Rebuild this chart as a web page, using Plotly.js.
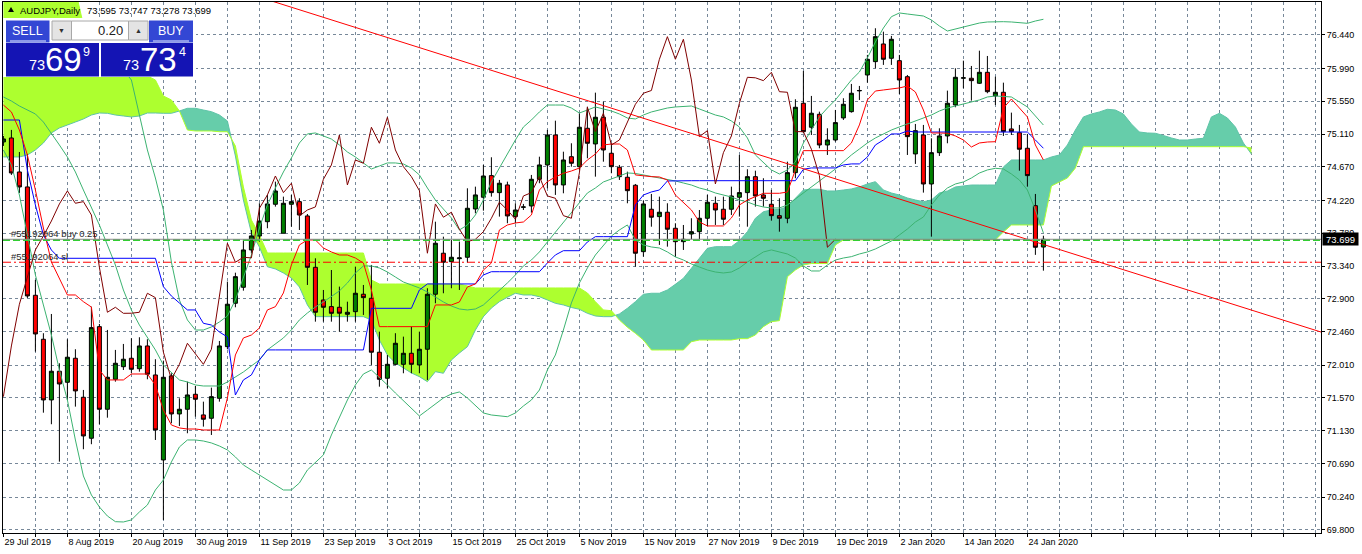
<!DOCTYPE html>
<html><head><meta charset="utf-8">
<script src="https://cdn.plot.ly/plotly-3.0.1.min.js"></script>
<style>html,body{margin:0;padding:0;background:#fff;}#chart{width:1362px;height:554px;}</style>
</head><body><div id="chart"></div>
<script>
// ---------- DATA ----------
const symbol = "AUDJPY,Daily";
const dateLabels = ["29 Jul 2019","8 Aug 2019","20 Aug 2019","30 Aug 2019","11 Sep 2019","23 Sep 2019","3 Oct 2019","15 Oct 2019","25 Oct 2019","5 Nov 2019","15 Nov 2019","27 Nov 2019","9 Dec 2019","19 Dec 2019","2 Jan 2020","14 Jan 2020","24 Jan 2020"];
const priceTicks = ["76.440","75.990","75.550","75.110","74.670","74.220","73.780","73.340","72.900","72.460","72.010","71.570","71.130","70.690","70.240","69.800"];

const open = [75.005,75.058,74.602,74.401,72.948,72.358,71.544,71.929,71.781,72.103,
71.580,71.030,72.527,71.419,71.821,71.990,72.103,71.963,72.268,71.879,
70.739,71.866,71.356,71.419,71.620,71.343,71.298,71.566,72.259,72.841,
73.055,73.556,73.743,73.935,74.169,73.780,74.169,74.204,74.012,73.323,
72.885,72.796,72.787,72.693,72.728,72.962,72.908,72.184,71.835,72.022,
72.022,72.170,72.013,72.224,72.962,73.512,73.399,73.439,73.458,74.106,
74.263,74.553,74.325,74.428,74.003,74.128,74.146,74.504,74.696,75.098,
74.428,74.807,74.673,75.188,74.978,75.336,74.853,74.665,74.531,74.424,
73.533,74.102,74.003,74.062,73.847,73.667,73.770,73.801,73.981,74.182,
74.102,74.102,74.263,74.325,74.539,74.294,74.169,74.016,73.981,74.593,
75.524,75.202,75.376,74.964,75.031,75.327,75.411,75.690,75.903,76.082,
76.319,76.127,76.095,75.880,74.844,75.098,74.441,74.861,75.085,75.501,
75.860,75.859,75.792,75.939,75.622,75.671,75.179,75.129,74.920,74.150,
73.595];
const high = [75.085,75.166,74.870,74.844,73.154,72.439,72.697,72.036,72.358,72.224,
71.678,72.795,72.563,72.483,72.215,72.295,72.371,72.385,72.358,72.090,
72.071,71.902,71.566,71.789,71.732,71.521,71.709,72.335,73.131,73.251,
73.690,73.824,74.182,74.293,74.472,74.271,74.293,74.249,74.038,73.444,
73.019,73.287,73.064,72.862,73.332,73.086,73.355,72.460,72.147,72.439,
72.393,72.527,72.460,73.042,73.935,73.734,73.690,73.667,74.383,74.405,
74.696,74.799,74.495,74.472,74.182,74.173,74.562,74.807,75.166,75.290,
74.874,74.987,75.390,75.478,75.666,75.545,74.987,74.696,74.606,74.441,
74.217,74.307,74.271,74.182,73.914,73.891,73.981,74.092,74.294,74.271,
74.271,74.405,74.830,74.638,74.619,74.518,74.361,74.249,74.740,75.577,
75.957,75.622,75.411,75.188,75.434,75.591,75.783,75.756,76.172,76.530,
76.484,76.427,76.172,75.903,75.246,75.233,75.054,75.188,75.693,75.993,
76.095,76.024,76.229,76.158,75.880,75.800,75.398,75.233,75.112,74.307,
73.747];
const low = [74.951,74.562,74.320,72.912,72.192,71.373,71.218,70.716,71.544,71.454,
70.883,70.950,71.218,71.306,71.789,71.946,71.902,71.923,71.821,71.007,
69.934,71.231,71.195,71.097,71.320,71.186,71.074,71.521,72.224,72.787,
73.010,73.511,73.667,73.847,74.137,73.780,73.868,73.824,73.086,72.594,
72.594,72.594,72.460,72.594,72.594,72.684,72.013,71.722,71.701,72.013,
71.902,71.902,71.902,71.812,72.841,72.975,73.042,73.019,73.386,74.048,
74.083,74.271,74.003,73.914,73.914,74.092,74.056,74.451,74.383,74.294,
74.316,74.673,74.629,74.786,74.539,74.740,74.585,74.495,74.182,73.332,
73.466,73.868,73.623,73.600,73.466,73.556,73.699,73.681,73.877,73.891,
73.891,74.025,74.003,73.868,74.137,74.137,73.949,73.801,73.914,74.518,
75.121,75.098,74.920,74.830,75.009,75.300,75.398,75.568,75.800,75.993,
76.038,76.038,75.648,74.830,74.710,74.325,73.734,74.817,74.987,75.470,
75.725,75.559,75.783,75.658,75.501,75.085,75.098,74.619,74.405,73.490,
73.278];
const close = [75.045,74.589,74.401,72.939,72.429,71.544,71.929,71.758,72.117,71.665,
71.061,72.514,71.419,71.848,72.036,72.090,71.955,72.268,71.889,71.141,
71.848,71.356,71.419,71.611,71.553,71.285,71.588,72.268,72.828,73.198,
73.556,73.744,73.944,74.173,74.347,74.182,74.204,74.025,73.323,72.720,
72.787,72.706,72.707,72.720,72.975,72.916,72.184,71.821,72.022,72.304,
72.170,72.022,72.224,72.962,73.646,73.391,73.458,73.449,74.115,74.294,
74.548,74.325,74.451,74.012,74.092,74.133,74.504,74.696,75.098,74.428,
74.763,74.719,75.202,74.987,75.336,74.897,74.673,74.539,74.351,73.512,
74.173,73.995,74.062,73.834,73.667,73.699,73.801,73.981,74.196,74.092,
73.968,74.280,74.325,74.539,74.280,74.249,74.016,73.981,74.593,75.470,
75.143,75.390,74.964,75.031,75.264,75.510,75.658,75.695,76.114,76.417,
76.114,76.382,75.836,75.076,75.156,74.441,74.861,75.085,75.524,75.872,
75.865,75.827,75.939,75.679,75.671,75.143,75.143,74.907,74.553,73.592,
73.699];

const tenkan = [75.500,75.407,75.165,74.830,74.360,73.850,73.395,73.180,72.952,72.952,
72.862,72.790,71.946,71.812,71.812,71.812,71.892,71.892,71.892,71.744,
71.409,71.208,71.168,71.154,71.154,71.141,71.141,71.141,71.570,72.147,
72.375,72.415,72.509,72.751,72.795,72.979,73.355,73.623,73.690,73.690,
73.582,73.529,73.488,73.488,73.448,73.381,73.019,72.527,72.527,72.527,
72.527,72.527,72.527,72.527,72.818,72.818,72.818,72.858,73.059,73.100,
73.287,73.381,73.824,73.891,73.918,73.931,74.025,74.360,74.472,74.535,
74.584,74.615,74.655,74.763,74.843,74.964,74.977,74.977,74.897,74.562,
74.548,74.539,74.535,74.494,74.293,74.186,74.092,73.931,73.878,73.878,
73.878,73.985,74.159,74.226,74.266,74.316,74.316,74.316,74.333,74.629,
74.888,74.888,74.888,74.888,74.888,74.888,74.991,75.233,75.568,75.688,
75.702,75.715,75.729,75.755,75.675,75.433,75.125,75.125,75.121,75.085,
75.031,74.937,74.991,75.004,75.008,75.460,75.581,75.460,75.340,74.964,
74.763];
const kijun = [75.299,75.299,75.299,74.629,74.159,73.757,73.555,73.444,73.444,73.444,
73.444,73.444,73.444,73.444,73.444,73.444,73.444,73.444,73.444,73.444,
73.063,72.938,72.844,72.751,72.751,72.572,72.549,72.455,72.389,71.610,
71.812,71.879,72.080,72.215,72.215,72.215,72.215,72.215,72.215,72.215,
72.215,72.215,72.215,72.215,72.215,72.215,72.773,72.773,72.773,72.773,
72.773,72.773,73.019,73.100,73.100,73.100,73.100,73.100,73.100,73.100,
73.220,73.264,73.264,73.264,73.264,73.264,73.264,73.264,73.381,73.489,
73.546,73.546,73.546,73.663,73.734,73.734,73.734,73.734,73.734,74.159,
74.293,74.334,74.360,74.481,74.485,74.485,74.485,74.485,74.485,74.485,
74.485,74.485,74.485,74.485,74.485,74.485,74.485,74.485,74.485,74.485,
74.638,74.656,74.656,74.656,74.656,74.696,74.710,74.710,74.803,74.964,
75.031,75.112,75.112,75.152,75.138,75.138,75.138,75.138,75.138,75.138,
75.138,75.138,75.138,75.138,75.138,75.138,75.138,75.138,75.138,75.031,
74.920];
const spanA = [77.043,77.043,77.043,77.043,77.043,77.043,77.043,77.043,77.043,77.043,
76.574,76.372,76.238,76.104,76.037,75.970,75.943,75.916,75.890,75.836,
75.621,75.568,75.420,75.165,75.152,75.152,75.152,75.142,75.142,74.951,
74.401,73.958,73.757,73.515,73.515,73.515,73.515,73.515,73.515,73.515,
73.515,73.515,73.515,73.515,73.515,73.515,73.153,73.099,73.099,73.099,
73.099,73.099,73.099,73.099,73.099,73.099,73.099,73.099,73.073,73.046,
73.046,73.046,73.046,73.046,73.046,73.046,73.046,73.046,73.046,73.046,
73.046,73.046,73.046,72.979,72.862,72.751,72.741,72.616,72.519,72.438,
72.348,72.214,72.214,72.214,72.214,72.214,72.325,72.348,72.348,72.348,
72.348,72.348,72.366,72.366,72.415,72.527,72.594,72.607,73.197,73.287,
73.354,73.374,73.374,73.374,73.623,73.690,73.690,73.690,73.690,73.690,
73.690,73.690,73.690,73.690,73.690,73.690,73.690,73.690,73.690,73.690,
73.690,73.690,73.690,73.690,73.690,73.797,73.891,73.891,73.891,73.891,
73.891,74.414,74.468,74.521,74.655,74.941,74.941,74.941,74.941,74.941,
74.941,74.941,74.941,74.941,74.941,74.941,74.941,74.941,74.941,74.941,
74.941,74.941,74.941,74.941,74.941,74.941,74.924];
const spanB = [74.803,74.803,74.803,74.830,74.897,74.991,75.125,75.192,75.232,75.272,
75.313,75.366,75.393,75.389,75.366,75.353,75.340,75.353,75.393,75.393,
75.389,75.389,75.420,75.456,75.456,75.433,75.411,75.366,75.286,74.816,
74.226,73.784,73.596,73.331,73.301,73.247,73.180,73.059,72.818,72.661,
72.661,72.661,72.661,72.661,72.661,72.661,72.617,72.348,72.147,72.040,
71.973,71.906,71.856,71.789,71.923,71.902,72.080,72.174,72.258,72.482,
72.661,72.777,72.862,72.921,72.975,72.952,72.952,72.929,72.885,72.840,
72.818,72.784,72.760,72.706,72.670,72.661,72.661,72.697,72.773,72.862,
72.961,72.975,72.975,73.019,73.095,73.176,73.310,73.444,73.578,73.600,
73.600,73.600,73.680,73.801,73.981,74.069,74.092,74.101,74.136,74.249,
74.360,74.370,74.370,74.347,74.347,74.360,74.374,74.401,74.441,74.472,
74.360,74.320,74.293,74.253,74.226,74.203,74.226,74.320,74.347,74.401,
74.414,74.427,74.427,74.427,74.427,74.669,74.763,74.763,74.763,74.763,
74.763,74.803,74.830,74.964,75.165,75.340,75.380,75.407,75.443,75.433,
75.380,75.246,75.138,75.125,75.121,75.091,75.058,75.031,75.031,75.044,
75.054,75.340,75.389,75.326,75.205,74.991,74.843];
const bbUpper = [76.265,76.292,76.319,76.346,76.372,76.372,76.372,76.372,76.359,76.346,
76.319,76.292,76.238,76.158,76.050,75.970,75.836,75.366,74.897,74.521,
74.092,73.394,72.885,72.617,72.482,72.482,72.523,72.590,72.670,72.885,
73.180,73.488,73.851,74.159,74.387,74.602,74.790,74.991,75.112,75.125,
75.085,75.044,74.964,74.870,74.803,74.723,74.642,74.682,74.723,74.723,
74.709,74.655,74.562,74.387,74.226,74.105,73.985,73.824,73.891,74.025,
74.226,74.468,74.655,74.857,75.031,75.205,75.299,75.407,75.500,75.500,
75.500,75.460,75.393,75.433,75.474,75.447,75.420,75.380,75.326,75.313,
75.366,75.407,75.433,75.460,75.474,75.480,75.487,75.447,75.407,75.366,
75.340,75.286,75.205,75.058,74.830,74.723,74.629,74.575,74.629,74.736,
74.991,75.165,75.340,75.460,75.568,75.702,75.836,75.943,76.131,76.346,
76.533,76.685,76.735,76.721,76.708,76.694,76.641,76.560,76.493,76.520,
76.551,76.574,76.600,76.614,76.618,76.618,76.614,76.600,76.596,76.627,
76.650];
const bbMiddle = [75.608,75.554,75.487,75.433,75.380,75.272,75.125,74.964,74.803,74.602,
74.360,74.119,73.891,73.623,73.354,73.019,72.751,72.549,72.389,72.215,
72.013,71.906,71.812,71.785,71.745,71.731,71.731,71.731,71.785,71.852,
71.919,72.000,72.080,72.215,72.295,72.375,72.483,72.617,72.710,72.791,
72.858,72.938,73.006,73.113,73.247,73.341,73.341,73.314,73.260,73.193,
73.126,73.086,73.046,72.992,72.925,72.858,72.804,72.764,72.751,72.764,
72.818,72.912,73.019,73.113,73.220,73.341,73.421,73.529,73.663,73.797,
73.931,74.065,74.199,74.320,74.387,74.468,74.508,74.548,74.589,74.582,
74.562,74.548,74.521,74.501,74.481,74.454,74.427,74.387,74.360,74.320,
74.293,74.266,74.226,74.199,74.159,74.132,74.119,74.119,74.159,74.240,
74.320,74.401,74.481,74.562,74.642,74.736,74.830,74.910,74.991,75.058,
75.112,75.165,75.206,75.246,75.286,75.326,75.366,75.420,75.460,75.487,
75.514,75.541,75.568,75.608,75.621,75.615,75.608,75.541,75.474,75.353,
75.232];
const bbLower = [74.897,74.696,74.293,73.757,73.220,72.818,72.415,71.946,71.543,71.007,
70.524,70.269,70.108,69.987,69.911,69.907,69.934,70.041,70.135,70.336,
70.470,70.712,70.913,71.007,71.007,70.993,70.967,70.926,70.873,70.779,
70.671,70.604,70.537,70.470,70.403,70.336,70.336,70.430,70.604,70.712,
70.806,71.074,71.302,71.543,71.745,71.892,71.946,71.852,71.745,71.637,
71.530,71.423,71.329,71.409,71.490,71.570,71.624,71.651,71.570,71.476,
71.369,71.342,71.329,71.319,71.369,71.463,71.543,71.677,71.946,72.147,
72.482,72.845,73.113,73.314,73.488,73.623,73.743,73.824,73.891,73.690,
73.623,73.596,73.582,73.529,73.462,73.421,73.368,73.327,73.287,73.260,
73.247,73.260,73.314,73.394,73.462,73.529,73.556,73.529,73.502,73.448,
73.341,73.274,73.274,73.354,73.421,73.448,73.466,73.502,73.529,73.569,
73.623,73.676,73.757,73.837,73.931,73.998,74.159,74.293,74.387,74.441,
74.468,74.521,74.588,74.629,74.651,74.642,74.575,74.494,74.360,74.092,
73.784];
const trendBars = [30, 166];
const trendPrices = [77.015, 72.411];
const orderTicket = "#55192064";
const orderLots = "0.25";
const orderOpen = 73.690;
const stopLoss = 73.391;
const bid = 73.699;
const ask = 73.734;
const lotSize = "0.20";

// ---------- LAYOUT HELPERS ----------
const W = 1362, H = 554, ML = 3, MR = 41, MT = 2, MB = 21;
const PW = W - ML - MR, PH = H - MT - MB;
const fx = px => (px - ML) / PW;
const fy = py => (MT + PH - py) / PH;
const FONT = "Liberation Sans, Arial, sans-serif";
const LIME = "#ADFF2F", TEAL = "#66CDAA";
const n = close.length;
const bars = close.map((_, i) => i);

// ---------- CLOUD (shapes between grid and traces) ----------
function cloudPolys(A, B) {
  const polys = []; let cur = null;
  for (let i = 0; i < A.length; i++) {
    const up = A[i] >= B[i];
    if (!cur) { cur = {up, xs: [i], a: [A[i]], b: [B[i]]}; continue; }
    if (up !== cur.up) {
      const d0 = A[i-1] - B[i-1], d1 = A[i] - B[i];
      const t = d0 / (d0 - d1);
      const xi = i - 1 + t, yi = A[i-1] + (A[i] - A[i-1]) * t;
      cur.xs.push(xi); cur.a.push(yi); cur.b.push(yi);
      polys.push(cur);
      cur = {up, xs: [xi, i], a: [yi, A[i]], b: [yi, B[i]]};
    } else { cur.xs.push(i); cur.a.push(A[i]); cur.b.push(B[i]); }
  }
  polys.push(cur);
  return polys;
}
const shapes = [];
cloudPolys(spanA, spanB).forEach(p => {
  const pts = p.xs.map((x, j) => [x, p.a[j]]).concat(p.xs.map((x, j) => [x, p.b[j]]).reverse());
  shapes.push({type: 'path', xref: 'x', yref: 'y', layer: 'between',
    path: 'M' + pts.map(q => q[0] + ',' + q[1]).join('L') + 'Z',
    fillcolor: p.up ? LIME : TEAL, line: {width: 0}});
});
function linePath(arr) { return 'M' + arr.map((v, i) => i + ',' + v).join('L'); }
shapes.push({type: 'path', xref: 'x', yref: 'y', layer: 'between', path: linePath(spanB), fillcolor: 'rgba(0,0,0,0)', line: {color: '#5FC4A8', width: 1}});
shapes.push({type: 'path', xref: 'x', yref: 'y', layer: 'between', path: linePath(spanA), fillcolor: 'rgba(0,0,0,0)', line: {color: LIME, width: 1}});

// order lines
shapes.push({type: 'line', xref: 'paper', yref: 'y', x0: 0, x1: 1, y0: orderOpen, y1: orderOpen, layer: 'above', line: {color: '#32CD32', width: 2, dash: '7px,3px'}});
shapes.push({type: 'line', xref: 'paper', yref: 'y', x0: 0, x1: 1, y0: bid, y1: bid, layer: 'above', line: {color: '#8C8C8C', width: 1}});
shapes.push({type: 'line', xref: 'paper', yref: 'y', x0: 0, x1: 1, y0: stopLoss, y1: stopLoss, layer: 'above', line: {color: '#FF0000', width: 1, dash: '8px,3px,2px,3px'}});

// ---------- one-click trading panel ----------
function rect(x0, y0, x1, y1, fill, lineColor) {
  shapes.push({type: 'rect', xref: 'paper', yref: 'paper', layer: 'above',
    x0: fx(x0), x1: fx(x1), y0: fy(y1), y1: fy(y0), fillcolor: fill,
    line: {color: lineColor || fill, width: lineColor ? 1 : 0}});
}
function hline(x0, x1, y, color) {
  shapes.push({type: 'line', xref: 'paper', yref: 'paper', layer: 'above',
    x0: fx(x0), x1: fx(x1), y0: fy(y), y1: fy(y), line: {color, width: 1}});
}
rect(3, 18, 196, 77, '#FFFFFF');
rect(6, 20.5, 49.5, 42.5, '#3347D4');
rect(149, 20.5, 193, 42.5, '#3347D4');
hline(10, 46, 41, '#E8ECFF');
hline(153, 189, 41, '#E8ECFF');
rect(52, 21, 71.5, 40, '#E4E4E4', '#A8A8A8');
rect(71.5, 21, 128.5, 40, '#FFFFFF', '#A8A8A8');
rect(128.5, 21, 148, 40, '#E4E4E4', '#A8A8A8');
rect(6, 43, 99, 76.5, '#1414B4');
rect(101, 43, 193, 76.5, '#1414B4');
// title triangle
shapes.push({type: 'path', xref: 'paper', yref: 'paper', layer: 'above',
  path: `M${fx(8)},${fy(12)}L${fx(14)},${fy(12)}L${fx(11)},${fy(7)}Z`, fillcolor: '#000', line: {width: 0}});

// ---------- TRACES ----------
const traces = [];
traces.push({type: 'candlestick', x: bars, open, high, low, close,
  increasing: {line: {color: '#000', width: 1}, fillcolor: '#008000'},
  decreasing: {line: {color: '#000', width: 1}, fillcolor: '#FF0000'},
  whiskerwidth: 0, hoverinfo: 'skip', showlegend: false});
function lineTrace(x, y, color, w) {
  return {type: 'scatter', mode: 'lines', x, y, line: {color, width: w || 1}, hoverinfo: 'skip', showlegend: false};
}
traces.push(lineTrace(bars, bbUpper, '#3CB371'));
traces.push(lineTrace(bars, bbMiddle, '#3CB371'));
traces.push(lineTrace(bars, bbLower, '#3CB371'));
traces.push(lineTrace(bars, kijun, '#0000FF'));
traces.push(lineTrace(bars, tenkan, '#FF0000'));
traces.push(lineTrace(bars.slice(26).map(i => i - 26), close.slice(26), '#800000'));
traces.push(lineTrace(trendBars, trendPrices, '#FF0000'));

// ---------- AXES ----------
const xTickVals = [], xTickText = [];
for (let b = 0; b <= 164; b += 4) {
  xTickVals.push(b);
  xTickText.push(b % 8 === 0 && b / 8 < dateLabels.length ? dateLabels[b / 8] : '');
}

// ---------- ANNOTATIONS ----------
const ann = [];
function txt(text, x, y, size, color, xanchor, extra) {
  ann.push(Object.assign({text, x: fx(x), y: fy(y), xref: 'paper', yref: 'paper', showarrow: false,
    xanchor: xanchor || 'center', yanchor: 'middle', font: {family: FONT, size, color}}, extra || {}));
}
txt(symbol, 18, 10, 9.5, '#000', 'left');
txt([open[n-1], high[n-1], low[n-1], close[n-1]].map(v => v.toFixed(3)).join(' '), 85, 10, 9.5, '#000', 'left');
txt('SELL', 27.5, 31, 12.5, '#FFFFFF');
txt('BUY', 171, 31, 12.5, '#FFFFFF');
txt(lotSize, 125, 30.5, 13, '#202020', 'right');
txt('▼', 61.7, 30.5, 7, '#303030');
txt('▲', 138.3, 30.5, 7, '#303030');
function priceParts(v) { const s = v.toFixed(3); return [s.slice(0, 2), s.slice(3, 5), s.slice(5)]; }
const bp = priceParts(bid), ap = priceParts(ask);
txt(bp[0], 36.5, 65, 14.5, '#FFFFFF');
txt(bp[1], 63, 59, 33, '#FFFFFF');
txt(bp[2], 86.5, 52, 12.5, '#FFFFFF');
txt(ap[0], 130.5, 65, 14.5, '#FFFFFF');
txt(ap[1], 158, 59, 33, '#FFFFFF');
txt(ap[2], 183, 52, 12.5, '#FFFFFF');
ann.push({text: `${orderTicket} buy ${orderLots}`, xref: 'paper', x: fx(9), yref: 'y', y: orderOpen, yshift: 6,
  xanchor: 'left', yanchor: 'middle', showarrow: false, font: {family: FONT, size: 9.5, color: '#2A2A2A'}});
ann.push({text: `${orderTicket} sl`, xref: 'paper', x: fx(9), yref: 'y', y: stopLoss, yshift: 6,
  xanchor: 'left', yanchor: 'middle', showarrow: false, font: {family: FONT, size: 9.5, color: '#2A2A2A'}});
ann.push({text: bid.toFixed(3), xref: 'paper', x: 1, xshift: 1, yref: 'y', y: bid, xanchor: 'left', yanchor: 'middle',
  showarrow: false, bgcolor: '#000', borderpad: 1, width: 33, height: 10, font: {family: FONT, size: 9.5, color: '#FFF'}});

const layout = {
  width: W, height: H, margin: {l: ML, r: MR, t: MT, b: MB, pad: 0},
  paper_bgcolor: '#FFFFFF', plot_bgcolor: '#FFFFFF', showlegend: false,
  boxgap: 0.5, boxgroupgap: 0,
  xaxis: {range: [-0.05, 164.7], tickmode: 'array', tickvals: xTickVals, ticktext: xTickText,
    ticks: 'outside', ticklen: 3, tickcolor: '#000', ticklabelposition: 'outside right',
    showgrid: true, gridcolor: '#778899', griddash: '3px,3px', gridwidth: 1,
    showline: true, mirror: true, linecolor: '#000', linewidth: 1, zeroline: false,
    rangeslider: {visible: false}, fixedrange: true, tickfont: {family: FONT, size: 9, color: '#000'}},
  yaxis: {side: 'right', range: [69.759, 76.882], tickmode: 'array', tickvals: priceTicks.map(Number), ticktext: priceTicks,
    ticks: 'outside', ticklen: 3, tickcolor: '#000',
    showgrid: true, gridcolor: '#778899', griddash: '3px,3px', gridwidth: 1,
    showline: true, mirror: true, linecolor: '#000', linewidth: 1, zeroline: false, fixedrange: true,
    tickfont: {family: FONT, size: 9, color: '#000'}},
  shapes, annotations: ann
};
Plotly.newPlot('chart', traces, layout, {staticPlot: true, displayModeBar: false});
</script>
</body></html>
